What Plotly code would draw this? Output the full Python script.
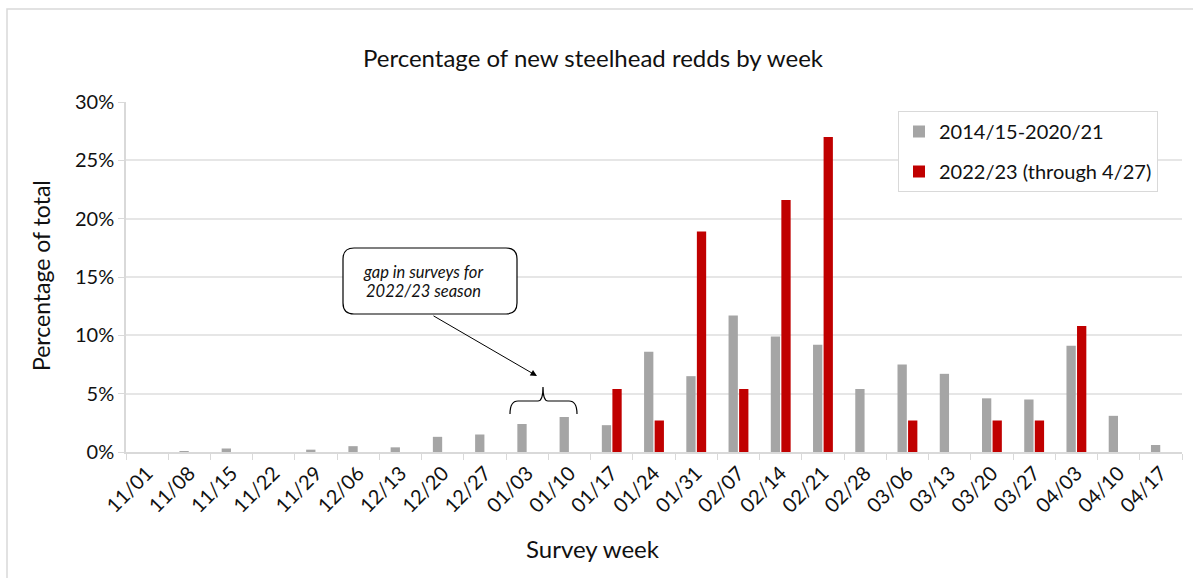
import plotly.graph_objects as go

weeks = ["11/01", "11/08", "11/15", "11/22", "11/29", "12/06", "12/13", "12/20", "12/27",
         "01/03", "01/10", "01/17", "01/24", "01/31", "02/07", "02/14", "02/21", "02/28",
         "03/06", "03/13", "03/20", "03/27", "04/03", "04/10", "04/17"]
hist_pct = [0.0, 0.05, 0.3, 0.0, 0.2, 0.5, 0.4, 1.3, 1.5, 2.4, 3.0, 2.3, 8.6, 6.5, 11.7,
            9.9, 9.2, 5.4, 7.5, 6.7, 4.6, 4.5, 9.1, 3.1, 0.6]
cur_pct = [0, 0, 0, 0, 0, 0, 0, 0, 0, 0, 0, 5.4, 2.7, 18.9, 5.4, 21.6, 27.0, 0, 2.7, 0,
           2.7, 2.7, 10.8, 0, 0]
hist_name = "2014/15-2020/21"
cur_name = "2022/23 (through 4/27)"
y_ticks = [0, 5, 10, 15, 20, 25, 30]

W, H = 1193, 578
L, R, T, B = 126, 11, 102, 126
FONT = "Lato"
GRID = "#e6e6e6"
AXIS = "#d9d9d9"
TXT = "#111111"

pw = W - L - R
ph = H - T - B
n = len(weeks)

def px_x(px):
    return (px - L) / pw * n - 0.5

def px_y(py):
    return (H - B - py) / ph * 30

fig = go.Figure()
fig.add_trace(go.Bar(x=weeks, y=[v / 100 for v in hist_pct], name=hist_name,
                     marker_color="#a5a5a5", marker_line_width=0, legendgroup="a"))
fig.add_trace(go.Bar(x=weeks, y=[v / 100 for v in cur_pct], name=cur_name,
                     marker_color="#c00000", marker_line_width=0, legendgroup="b"))

# rounded callout box
x0, x1, y0, y1, r = 343, 517, 248, 314, 11
def P(a, b):
    return f"{px_x(a)},{px_y(b)/100}"
path = (f"M {P(x0 + r, y0)} L {P(x1 - r, y0)} Q {P(x1, y0)} {P(x1, y0 + r)} "
        f"L {P(x1, y1 - r)} Q {P(x1, y1)} {P(x1 - r, y1)} L {P(x0 + r, y1)} "
        f"Q {P(x0, y1)} {P(x0, y1 - r)} L {P(x0, y0 + r)} Q {P(x0, y0)} {P(x0 + r, y0)} Z")
shapes = [dict(type="path", xref="x", yref="y", path=path, line=dict(color="black", width=1.2),
               fillcolor="white", layer="above")]
# brace
bp = (f"M {P(510, 414)} Q {P(510, 401)} {P(518, 401)} L {P(538, 401)} Q {P(543, 401)} {P(543, 387)} "
      f"Q {P(543, 401)} {P(548, 401)} L {P(569, 401)} Q {P(577, 401)} {P(577, 414)}")
shapes.append(dict(type="path", xref="x", yref="y", path=bp, line=dict(color="black", width=1.2)))
# outer chart border
shapes.append(dict(type="rect", xref="paper", yref="paper", x0=(7 - L) / pw, x1=(W + 20 - L) / pw,
                   y0=-(H + 20 - (H - B)) / ph, y1=(H - B - 9) / ph,
                   line=dict(color=AXIS, width=1.5), fillcolor="rgba(0,0,0,0)", layer="below"))

annotations = [
    dict(text="Percentage of new steelhead redds by week", xref="paper", yref="paper",
         x=(593 - L) / pw, y=(H - B - 57) / ph, showarrow=False, xanchor="center", yanchor="middle",
         font=dict(size=24, color=TXT, family=FONT)),
    dict(text="Survey week", xref="paper", yref="paper", x=(593 - L) / pw, y=(H - B - 548) / ph,
         showarrow=False, xanchor="center", yanchor="middle",
         font=dict(size=24, color=TXT, family=FONT)),
    dict(text="Percentage of total", xref="paper", yref="paper", x=(41 - L) / pw, y=(H - B - 276) / ph,
         showarrow=False, xanchor="center", yanchor="middle", textangle=-90,
         font=dict(size=23, color=TXT, family=FONT)),
    dict(text="<i>gap in surveys for</i>", xref="x", yref="y", x=px_x(361), y=px_y(272) / 100,
         showarrow=False, xanchor="left", yanchor="middle",
         font=dict(size=16.5, color=TXT, family=FONT)),
    dict(text="<i>2022/23 season</i>", xref="x", yref="y", x=px_x(364), y=px_y(291) / 100,
         showarrow=False, xanchor="left", yanchor="middle",
         font=dict(size=16.5, color=TXT, family=FONT)),
    dict(text="", xref="x", yref="y", x=px_x(537), y=px_y(376) / 100, ax=432 - 537, ay=315 - 376,
         showarrow=True, arrowhead=2, arrowsize=1.3, arrowwidth=1, arrowcolor="black"),
]

fig.update_layout(
    width=W, height=H, margin=dict(l=L, r=R, t=T, b=B),
    paper_bgcolor="white", plot_bgcolor="white",
    barmode="group", bargap=0.5, bargroupgap=0.12,
    font=dict(family=FONT, color=TXT),
    showlegend=True,
    legend=dict(x=(898 - L) / pw, y=(H - B - 111) / ph, xanchor="left", yanchor="top",
                bordercolor=AXIS, borderwidth=1, bgcolor="white",
                font=dict(size=20, family=FONT, color=TXT),
                traceorder="grouped", tracegroupgap=11, itemwidth=30),
    shapes=shapes, annotations=annotations,
    xaxis=dict(type="category", tickson="boundaries", ticks="outside", ticklen=6, tickcolor=AXIS,
               showline=True, linecolor=AXIS, linewidth=1.5, showgrid=False, tickangle=-45,
               tickfont=dict(size=20, family=FONT, color=TXT), range=[-0.5, n - 0.5]),
    yaxis=dict(range=[0, 0.30], tickvals=[v / 100 for v in y_ticks], tickformat=".0%",
               ticks="outside", ticklen=6, tickcolor=AXIS, showline=True, linecolor=AXIS, linewidth=1.5,
               showgrid=True, gridcolor=GRID, gridwidth=1.5, zeroline=False,
               tickfont=dict(size=20, family=FONT, color=TXT)),
)

fig.write_html("out.html")
